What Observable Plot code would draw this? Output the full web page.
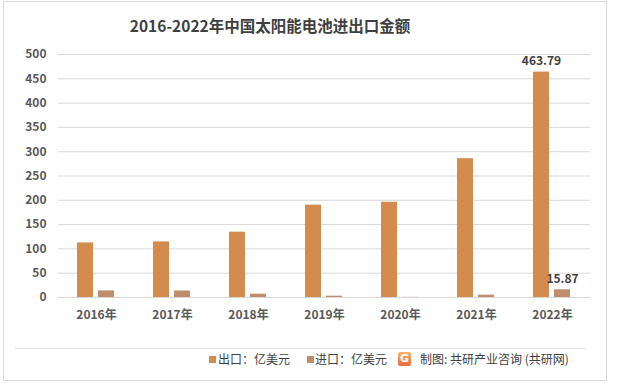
<!DOCTYPE html>
<html>
<head>
<meta charset="utf-8">
<script src="https://cdn.jsdelivr.net/npm/d3@7"></script>
<script src="https://cdn.jsdelivr.net/npm/@observablehq/plot@0.6"></script>
<style>
  html, body { margin: 0; padding: 0; background: #fff; }
  body { font-family: "Noto Sans CJK SC", "Noto Sans", sans-serif; }
  #wrap { position: relative; width: 618px; height: 390px; overflow: hidden; }
  #frame { position: absolute; left: 3px; top: 1px; width: 604px; height: 380px; border: 1px solid #d9d9d9; box-sizing: border-box; }
  #title { position: absolute; left: 0; width: 540px; top: 11px; text-align: center; font-size: 15.5px; font-weight: bold; color: #404040; line-height: 28px; }
  #chart { position: absolute; left: 0; top: 0; }
  #sep { position: absolute; left: 15px; width: 572px; top: 348px; height: 1px; background: #e6e6e6; }
  #legend { position: absolute; top: 349px; left: 0; width: 618px; height: 20px; font-size: 12px; color: #404040; }
  .sw { position: absolute; top: 7px; width: 7px; height: 7px; }
  .lt { position: absolute; top: 0px; line-height: 20px; white-space: nowrap; }
  #icon { position: absolute; left: 398px; top: 3px; width: 13px; height: 14px; border-radius: 2px;
          background: linear-gradient(180deg, #f7b56e, #ea6a3c); color: #fff; font: bold 11px/14px "DejaVu Sans", sans-serif; text-align: center; }
</style>
</head>
<body>
<div id="wrap">
  <div id="frame"></div>
  <div id="title">2016-2022年中国太阳能电池进出口金额</div>
  <div id="chart"></div>
  <div id="sep"></div>
  <div id="legend"></div>
</div>
<script>
const years = ["2016", "2017", "2018", "2019", "2020", "2021", "2022"];
const seriesNames = ["出口：亿美元", "进口：亿美元"];
const exportValues = [112.3, 114.4, 134.4, 190.0, 196.0, 285.6, 463.79];
const importValues = [13.6, 13.4, 6.8, 2.7, 0.3, 4.8, 15.87];
const yTicks = [0, 50, 100, 150, 200, 250, 300, 350, 400, 450, 500];
const colors = ["#D48B4E", "#BE8E6C"];
const labeledYear = "2022";

const rows = [];
years.forEach((yr, i) => {
  rows.push({year: yr, series: seriesNames[0], value: exportValues[i]});
  rows.push({year: yr, series: seriesNames[1], value: importValues[i]});
});
const labelRows = rows.filter(d => d.year === labeledYear);

const chart = Plot.plot({
  width: 618,
  height: 340,
  marginLeft: 57,
  marginRight: 27,
  marginTop: 54,
  marginBottom: 43,
  style: { fontFamily: "'Noto Sans CJK SC', 'Noto Sans', sans-serif", fontSize: "12px", color: "#404040", background: "transparent" },
  fx: { domain: years, padding: 0, label: null, tickSize: 0, tickPadding: 13, tickFormat: d => d + "年" },
  x: { domain: seriesNames, paddingInner: 0.227, paddingOuter: 0.86, axis: null },
  y: { domain: [0, 500], ticks: yTicks, label: null, tickSize: 0, tickPadding: 12 },
  color: { domain: seriesNames, range: colors },
  marks: [
    Plot.ruleY(yTicks, { stroke: "#d9d9d9", strokeWidth: 1 }),
    Plot.barY(rows, { fx: "year", x: "series", y: "value", fill: "series" }),
    Plot.text(labelRows, { fx: "year", x: "series", y: "value", text: d => d.value.toFixed(2), dy: -11, fill: "#404040", fontSize: 12, fontWeight: "bold" })
  ]
});
chart.querySelectorAll("g[aria-label='fx-axis tick label'] text, g[aria-label='y-axis tick label'] text").forEach(t => {
  t.setAttribute("font-weight", "bold");
  t.setAttribute("fill", "#595959");
});
document.getElementById("chart").appendChild(chart);

const legend = document.getElementById("legend");
const items = [
  { sw: 209, tx: 218, label: seriesNames[0], color: colors[0] },
  { sw: 307, tx: 315, label: seriesNames[1], color: colors[1] }
];
items.forEach(it => {
  const s = document.createElement("div");
  s.className = "sw"; s.style.left = it.sw + "px"; s.style.background = it.color;
  legend.appendChild(s);
  const t = document.createElement("div");
  t.className = "lt"; t.style.left = it.tx + "px"; t.textContent = it.label;
  legend.appendChild(t);
});
const icon = document.createElement("div");
icon.id = "icon"; icon.textContent = "G";
legend.appendChild(icon);
const src = document.createElement("div");
src.className = "lt"; src.style.left = "420px"; src.textContent = "制图: 共研产业咨询 (共研网)";
legend.appendChild(src);
</script>
</body>
</html>
